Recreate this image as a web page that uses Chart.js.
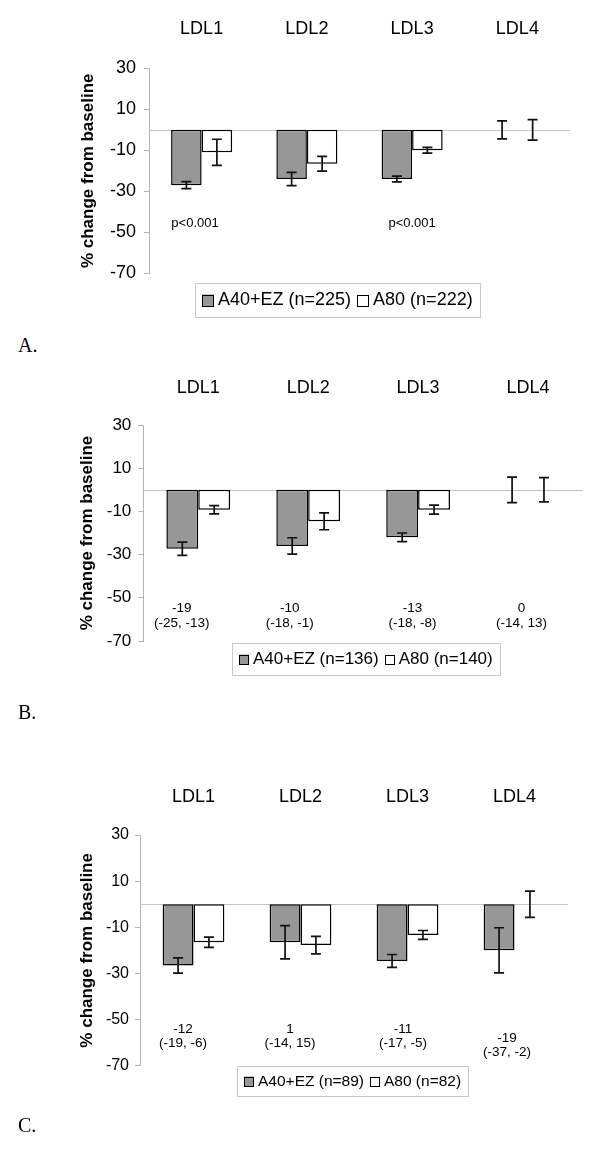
<!DOCTYPE html>
<html><head><meta charset="utf-8">
<script src="https://cdn.jsdelivr.net/npm/chart.js@4.4.1/dist/chart.umd.min.js"></script>
<style>
html,body{margin:0;padding:0;background:#fff;}
body{width:600px;height:1162px;position:relative;overflow:hidden;}
canvas{position:absolute;left:0;}
.lbl{position:absolute;left:18px;font-family:"Liberation Serif","Times New Roman",serif;font-size:20px;line-height:22px;color:#000;}
</style></head><body>
<canvas id="cA" width="600" height="330" style="top:0px"></canvas>
<canvas id="cB" width="600" height="330" style="top:360px"></canvas>
<canvas id="cC" width="600" height="340" style="top:770px"></canvas>
<div class="lbl" style="top:334px">A.</div>
<div class="lbl" style="top:701px">B.</div>
<div class="lbl" style="top:1114px">C.</div>
<script>
// ---- data ----
const categories = ['LDL1', 'LDL2', 'LDL3', 'LDL4'];
const yTicks = [-70, -50, -30, -10, 10, 30];
const seriesNames = ['A40+EZ', 'A80'];
const yTitle = '% change from baseline';

// Panel A
const nA = [225, 222];
const aEz = [-27, -24, -24, 0];
const aEzErr = [1.7, 3.2, 1.4, 4.4];
const aA80 = [-11, -16.6, -10, 0];
const aA80Err = [6.4, 3.6, 1.4, 5];
const annA = [['p<0.001'], [], ['p<0.001'], []];

// Panel B
const nB = [136, 140];
const bEz = [-27.3, -26, -22, 0];
const bEzErr = [3.1, 3.8, 2, 5.9];
const bA80 = [-9.2, -14.6, -9.2, 0];
const bA80Err = [1.9, 3.9, 2.1, 5.6];
const annB = [['-19', '(-25, -13)'], ['-10', '(-18, -1)'], ['-13', '(-18, -8)'], ['0', '(-14, 13)']];

// Panel C
const nC = [89, 82];
const cEz = [-26.6, -16.5, -24.6, -20];
const cEzErr = [3.3, 7.2, 2.8, 9.8];
const cA80 = [-16.5, -17.7, -13.3, 0];
const cA80Err = [2.2, 3.8, 1.9, 5.7];
const annC = [['-12', '(-19, -6)'], ['1', '(-14, 15)'], ['-11', '(-17, -5)'], ['-19', '(-37, -2)']];

// ---- drawing ----
const FAM = '"Liberation Sans", Arial, Helvetica, sans-serif';
const GRAY = '#979797';

function makePlugin(p) {
  return {
    id: 'panel',
    beforeDatasetsDraw(chart) {
      const {ctx, chartArea: a, scales: {y}} = chart;
      const py = Math.round(y.getPixelForValue(0)) + 0.5;
      ctx.save();
      ctx.strokeStyle = '#c4c4c4'; ctx.lineWidth = 1;
      ctx.beginPath(); ctx.moveTo(a.left, py); ctx.lineTo(a.right, py); ctx.stroke();
      ctx.restore();
    },
    afterDatasetsDraw(chart) {
      const {ctx, scales: {x, y}} = chart;
      ctx.save();
      // error bars
      ctx.strokeStyle = '#111'; ctx.lineWidth = 1.7;
      chart.data.datasets.forEach((ds, i) => {
        const meta = chart.getDatasetMeta(i);
        meta.data.forEach((bar, j) => {
          const m = ds.data[j], e = p.errs[i][j];
          const bx = bar.x, y1 = y.getPixelForValue(m + e), y2 = y.getPixelForValue(m - e);
          const cap = 5;
          ctx.beginPath();
          ctx.moveTo(bx, y1); ctx.lineTo(bx, y2);
          ctx.moveTo(bx - cap, y1); ctx.lineTo(bx + cap, y1);
          ctx.moveTo(bx - cap, y2); ctx.lineTo(bx + cap, y2);
          ctx.stroke();
        });
      });
      // annotations
      ctx.fillStyle = '#000';
      ctx.font = p.annFont + 'px ' + FAM;
      ctx.textAlign = 'center'; ctx.textBaseline = 'middle';
      p.ann.forEach((lines, j) => {
        const cx = x.getPixelForValue(j) + p.annDx[j];
        const y0 = p.annY[j];
        lines.forEach((t, k) => ctx.fillText(t, cx, y0 + k * p.annLine));
      });
      // legend
      const L = p.legend;
      ctx.font = L.font + 'px ' + FAM;
      const items = chart.data.datasets.map(ds => ({text: ds.label, fill: ds.backgroundColor, w: ctx.measureText(ds.label).width}));
      const gap1 = 4, gap2 = 6, pad = 7;
      let total = pad * 2;
      items.forEach((it, k) => { total += L.box + gap1 + it.w + (k ? gap2 : 0); });
      ctx.strokeStyle = '#c8c8c8'; ctx.lineWidth = 1;
      ctx.strokeRect(Math.round(L.left) + 0.5, Math.round(L.top) + 0.5, Math.round(total), L.h);
      let cx = L.left + pad;
      const cy = L.top + L.h / 2 + 0.5;
      ctx.textAlign = 'left';
      items.forEach((it, k) => {
        if (k) cx += gap2;
        ctx.fillStyle = it.fill;
        ctx.fillRect(cx, cy - L.box / 2, L.box, L.box);
        ctx.strokeStyle = '#000'; ctx.lineWidth = 1;
        ctx.strokeRect(Math.round(cx) + 0.5, Math.round(cy - L.box / 2) + 0.5, L.box - 1, L.box - 1);
        cx += L.box + gap1;
        ctx.fillStyle = '#000';
        ctx.fillText(it.text, cx, cy);
        cx += it.w;
      });
      ctx.restore();
    }
  };
}

function build(id, p, ez, a80, n) {
  const ctx = document.getElementById(id);
  return new Chart(ctx, {
    type: 'bar',
    data: {
      labels: categories,
      datasets: [
        {label: seriesNames[0] + ' (n=' + n[0] + ')', data: ez, backgroundColor: GRAY, borderColor: '#000', borderWidth: 1.5, borderSkipped: false},
        {label: seriesNames[1] + ' (n=' + n[1] + ')', data: a80, backgroundColor: '#ffffff', borderColor: '#000', borderWidth: 1.5, borderSkipped: false}
      ]
    },
    options: {
      responsive: false, animation: false, devicePixelRatio: 1,
      layout: {padding: {left: 0, top: 0, right: 600 - p.right, bottom: p.padBottom}},
      datasets: {bar: {categoryPercentage: p.catPct, barPercentage: 1}},
      plugins: {legend: {display: false}, tooltip: {enabled: false}, title: {display: false}},
      scales: {
        x: {
          position: 'top',
          grid: {display: false}, border: {display: false},
          ticks: {font: {family: FAM, size: 18}, color: '#000', padding: p.xPad},
          afterFit: s => { s.height = p.top; }
        },
        y: {
          min: -70, max: 30,
          afterBuildTicks: s => { s.ticks = yTicks.map(v => ({value: v})); },
          afterFit: s => { s.width = p.left; },
          grid: {drawOnChartArea: false, drawTicks: true, tickLength: 5, tickColor: '#b4b4b4', color: '#b4b4b4'},
          border: {display: true, color: '#b4b4b4', width: 1},
          ticks: {font: {family: FAM, size: p.tickFont}, color: '#000', padding: p.tickPad},
          title: {display: true, text: yTitle, color: '#000', font: {family: FAM, size: 17, weight: 'bold'}, padding: {top: p.titlePad, bottom: 0}}
        }
      }
    },
    plugins: [makePlugin(p)]
  });
}

build('cA', {
  top: 68.3, padBottom: 56.7, left: 149, right: 570, xPad: 20, tickFont: 18, tickPad: 8, titlePad: 78, catPct: 0.58,
  errs: [aEzErr, aA80Err], ann: annA, annDx: [-6.6, 0, 0, 0], annY: [223, 223, 223, 223], annLine: 15, annFont: 13,
  legend: {left: 195, top: 283, h: 34, font: 18, box: 12}
}, aEz, aA80, nA);

build('cB', {
  top: 65, padBottom: 49, left: 143.3, right: 583, xPad: 18, tickFont: 17, tickPad: 7, titlePad: 77, catPct: 0.58,
  errs: [bEzErr, bA80Err], ann: annB, annDx: [-16.5, -18.5, -5.5, -6.5], annY: [248, 248, 248, 248], annLine: 15, annFont: 13.5,
  legend: {left: 232, top: 283, h: 32, font: 17, box: 10}
}, bEz, bA80, nB);

build('cC', {
  top: 65, padBottom: 44.3, left: 140, right: 568, xPad: 19, tickFont: 16, tickPad: 6, titlePad: 77, catPct: 0.577,
  errs: [cEzErr, cA80Err], ann: annC, annDx: [-10.5, -10.5, -4.5, -7.5], annY: [259, 259, 259, 268], annLine: 14.5, annFont: 13.5,
  legend: {left: 237, top: 296, h: 30, font: 15.5, box: 10}
}, cEz, cA80, nC);
</script>
</body></html>
